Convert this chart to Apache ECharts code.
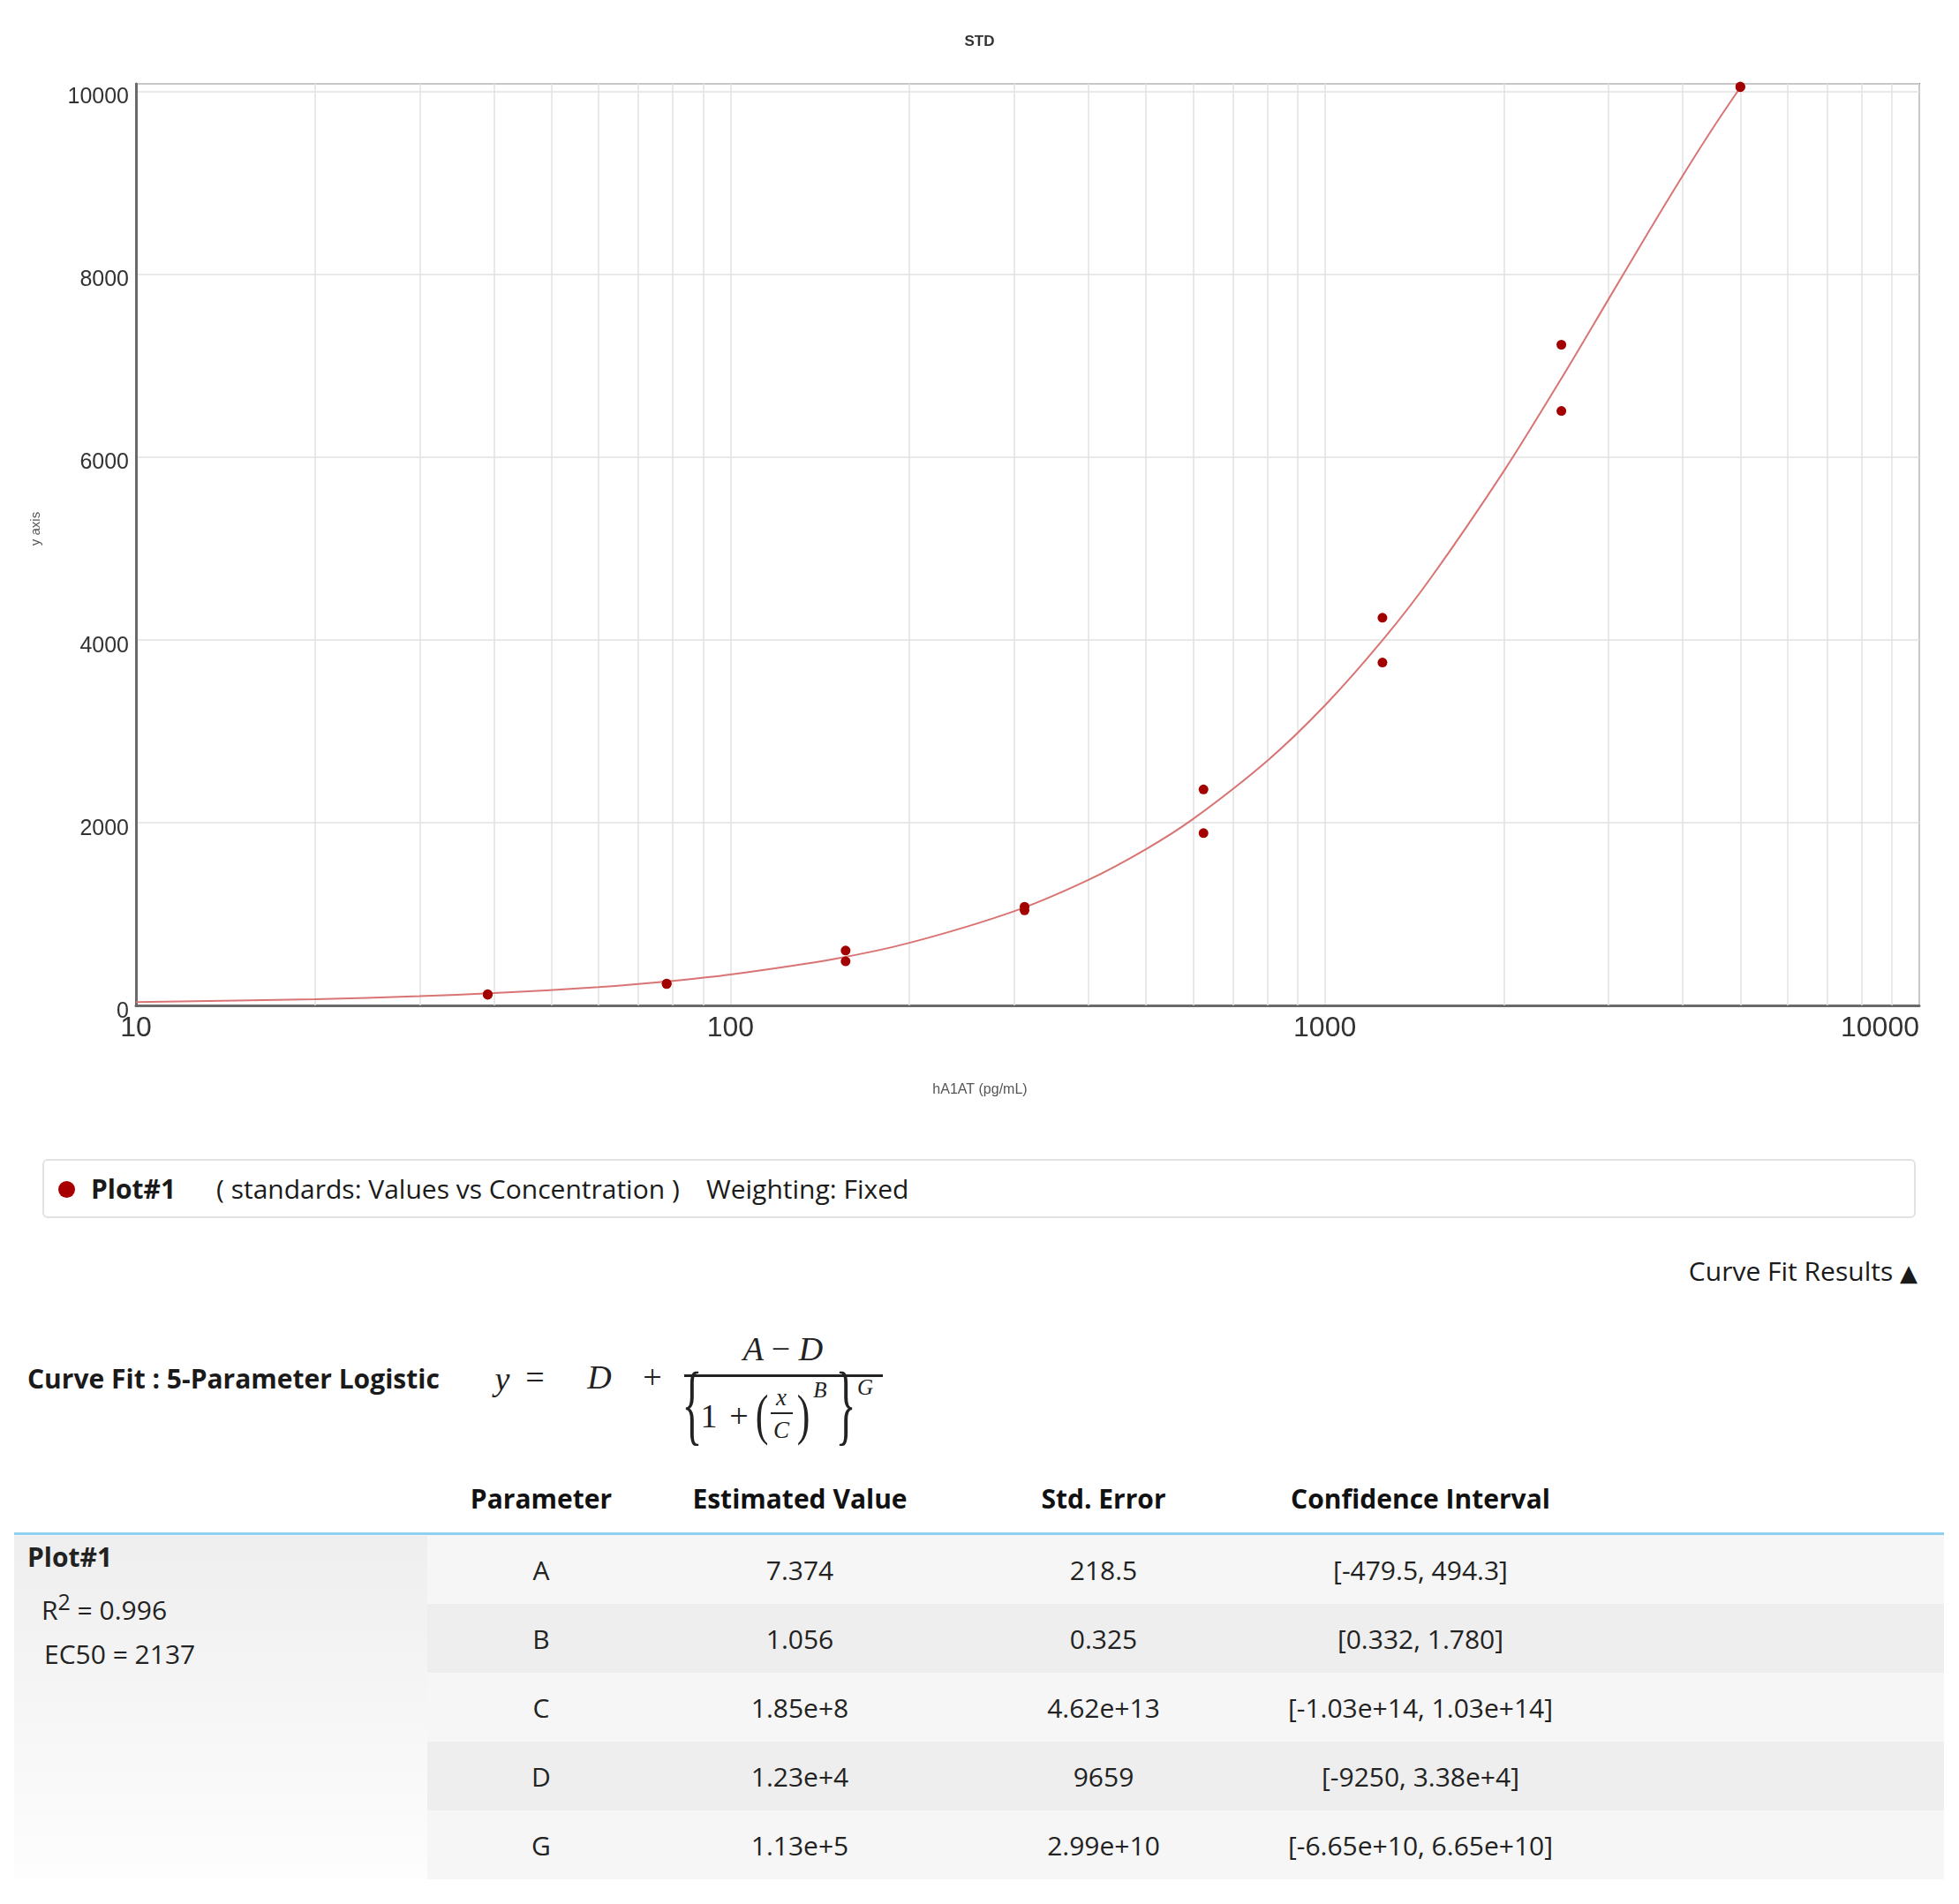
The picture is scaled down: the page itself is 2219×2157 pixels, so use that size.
<!DOCTYPE html>
<html>
<head>
<meta charset="utf-8">
<title>STD - Curve Fit</title>
<script src="https://cdn.jsdelivr.net/npm/echarts@6.0.0/dist/echarts.min.js"></script>
<style>
  html, body { margin: 0; padding: 0; background: #fff; }
  body { width: 2219px; height: 2157px; position: relative; overflow: hidden;
         font-family: 'Open Sans', Lato, 'Noto Sans', sans-serif; color: #1a1a1a; }
  #chart { position: absolute; left: 0; top: 0; width: 2219px; height: 1280px; }
  .t { position: absolute; white-space: nowrap; font-size: 30px; line-height: 38px; transform: translateY(-50%); }
  .c { position: absolute; white-space: nowrap; transform: translate(-50%, -50%); line-height: 1; }
  .b { font-weight: bold; }
  #legendBox { position: absolute; left: 48px; top: 1313px; width: 2122px; height: 67px;
               box-sizing: border-box; border: 2px solid #e2e2e2; border-radius: 6px; }
  #legendDot { position: absolute; left: 66px; top: 1338px; width: 19px; height: 19px;
               border-radius: 50%; background: #a80000; }
  .m { font-family: 'Liberation Serif', 'DejaVu Serif', serif; font-style: italic; color: #222; font-size: 38px; }
  .up { font-style: normal; }
  #fit { position: absolute; left: 16px; top: 1658px; border-collapse: collapse; table-layout: fixed; width: 2186px; }
  #fit th { height: 78px; font-size: 30px; font-weight: bold; color: #111; text-align: center;
            border-bottom: 3px solid #8fd0ee; padding: 0; }
  #fit td { height: 78px; font-size: 30px; color: #222; text-align: center; padding: 0; }
  #fit td.plot { text-align: left; vertical-align: top; padding: 0 0 0 15px;
                 background: linear-gradient(#eeeeee, #fdfdfd); }
  #fit td.plot div { line-height: 50px; }
  #fit tr.odd td.s { background: #f6f6f6; }
  #fit tr.even td.s { background: #eeeeee; }
</style>
</head>
<body>
<div id="chart"></div>

<div id="legendBox"></div>
<div id="legendDot"></div>
<div class="t b" style="left:103px; top:1347px;">Plot#1</div>
<div class="t" style="left:245px; top:1347px;">( standards: Values vs Concentration )</div>
<div class="t" style="left:800px; top:1347px;">Weighting: Fixed</div>

<div class="t" style="right:47px; top:1441px;">Curve Fit Results <span style="font-family:'DejaVu Sans'; font-size:26px;">&#9650;</span></div>

<div class="t b" style="left:31px; top:1562px;">Curve Fit : 5-Parameter Logistic</div>

<!-- formula: y = D + (A - D) / {1 + (x/C)^B}^G -->
<div class="c m" style="left:569px; top:1562px;">y</div>
<div class="c m up" style="left:606px; top:1560px;">=</div>
<div class="c m" style="left:679px; top:1560px;">D</div>
<div class="c m up" style="left:739px; top:1560px;">+</div>
<div class="c m" style="left:887px; top:1528px;">A <span class="up">&minus;</span> D</div>
<div style="position:absolute; left:775px; top:1557px; width:225px; height:3px; background:#222;"></div>
<div class="c m up" style="left:784px; top:1590px; font-size:48px; transform:translate(-50%,-50%) scaleY(2.1);">{</div>
<div class="c m up" style="left:803px; top:1604px;">1</div>
<div class="c m up" style="left:837px; top:1604px;">+</div>
<div class="c m up" style="left:863px; top:1604px; font-size:44px; transform:translate(-50%,-50%) scaleY(1.45);">(</div>
<div class="c m" style="left:885px; top:1583px; font-size:27px;">x</div>
<div style="position:absolute; left:873px; top:1600px; width:25px; height:2px; background:#222;"></div>
<div class="c m" style="left:885px; top:1620px; font-size:27px;">C</div>
<div class="c m up" style="left:910px; top:1604px; font-size:44px; transform:translate(-50%,-50%) scaleY(1.45);">)</div>
<div class="c m" style="left:929px; top:1574px; font-size:25px;">B</div>
<div class="c m up" style="left:958px; top:1590px; font-size:48px; transform:translate(-50%,-50%) scaleY(2.1);">}</div>
<div class="c m" style="left:980px; top:1571px; font-size:25px;">G</div>

<table id="fit">
  <colgroup>
    <col style="width:468px"><col style="width:258px"><col style="width:328px">
    <col style="width:360px"><col style="width:358px"><col style="width:414px">
  </colgroup>
  <thead>
    <tr><th></th><th>Parameter</th><th>Estimated Value</th><th>Std. Error</th><th>Confidence Interval</th><th></th></tr>
  </thead>
  <tbody id="fitBody"></tbody>
</table>

<script>
// standards: concentration (pg/mL) vs measured value
var concentrations = [39.0625, 39.0625, 78.125, 78.125, 156.25, 156.25, 312.5, 312.5,
                      625, 625, 1250, 1250, 2500, 2500, 5000, 5000];
var responses = [116, 122, 234, 240, 600, 482, 1080, 1040,
                 2362, 1885, 4240, 3750, 7227, 6502, 10044, 10050];

// fitted curve
var fitX = [10, 20, 30, 40, 60, 80, 100, 150, 200, 300, 400, 500, 600, 800,
            1000, 1250, 1500, 2000, 2500, 3000, 3500, 4000, 4500, 5000];
var fitY = [37, 68, 101, 134, 201, 269, 338, 510, 684, 1030, 1372, 1708, 2038, 2675,
            3280, 3993, 4656, 5843, 6858, 7723, 8456, 9076, 9600, 10041];

// minor vertical grid lines of the log axis
var gridX = [20, 30, 40, 50, 60, 70, 80, 90,
             200, 300, 400, 500, 600, 700, 800, 900,
             2000, 3000, 4000, 5000, 6000, 7000, 8000, 9000];

var yMin = 0, yMax = 10080, yStep = 2000;

// curve fit table
var plotName = 'Plot#1';
var rSquared = '0.996';
var ec50 = '2137';
var paramNames = ['A', 'B', 'C', 'D', 'G'];
var estValues = ['7.374', '1.056', '1.85e+8', '1.23e+4', '1.13e+5'];
var stdErrors = ['218.5', '0.325', '4.62e+13', '9659', '2.99e+10'];
var confIntervals = ['[-479.5, 494.3]', '[0.332, 1.780]', '[-1.03e+14, 1.03e+14]',
                     '[-9250, 3.38e+4]', '[-6.65e+10, 6.65e+10]'];

(function () {
    var axisFont = "'Liberation Sans', Arial, sans-serif";

    var option = {
        animation: false,
        backgroundColor: '#fff',
        title: {
            text: 'STD',
            left: 'center',
            top: 34,
            textStyle: { fontSize: 17, fontWeight: 'bold', color: '#333', fontFamily: axisFont }
        },
        grid: {
            left: 154, right: 45, top: 95, bottom: 141,
            show: true,
            borderColor: '#7d7d7d',
            borderWidth: 2
        },
        xAxis: {
            type: 'log',
            logBase: 10,
            min: 10,
            max: 10000,
            name: 'hA1AT (pg/mL)',
            nameLocation: 'middle',
            nameGap: 88,
            // page-centred like the original, not grid-centred
            nameTextStyle: { fontSize: 16, color: '#555', fontFamily: axisFont, padding: [0, 108, 0, 0] },
            axisLine: { show: true, lineStyle: { color: '#6a6a6a', width: 3 } },
            axisTick: { show: false },
            axisLabel: { fontSize: 32, color: '#333', margin: 10, fontFamily: axisFont,
                         alignMaxLabel: 'right',
                         formatter: function (v) { return String(v); } },
            splitLine: { show: true, lineStyle: { color: '#e2e2e2', width: 1.5 } }
        },
        yAxis: {
            type: 'value',
            min: yMin,
            max: yMax,
            interval: yStep,
            name: 'y axis',
            nameLocation: 'middle',
            nameRotate: 90,
            nameGap: 106,
            nameTextStyle: { fontSize: 15, color: '#555', fontFamily: axisFont, padding: [0, 0, 0, 36] },
            axisLine: { show: true, lineStyle: { color: '#6a6a6a', width: 3 } },
            axisTick: { show: false },
            axisLabel: {
                fontSize: 25, color: '#333', margin: 8, fontFamily: axisFont,
                // labels sit a little below their grid lines in the original
                verticalAlign: 'top',
                lineHeight: 14,
                showMaxLabel: false,
                formatter: function (v) { return v % yStep === 0 ? v : ''; }
            },
            splitLine: { show: true, lineStyle: { color: '#e2e2e2', width: 1.5 } }
        },
        series: [
            {
                name: 'fit',
                type: 'line',
                data: fitX.map(function (x, i) { return [x, fitY[i]]; }),
                showSymbol: false,
                smooth: 0.3,
                z: 3,
                lineStyle: { color: '#d97474', width: 2 },
                markLine: {
                    silent: true,
                    z: 1,
                    symbol: ['none', 'none'],
                    label: { show: false },
                    lineStyle: { color: '#e2e2e2', width: 1.5, type: 'solid' },
                    data: gridX.map(function (v) { return { xAxis: v }; })
                }
            },
            {
                name: plotName,
                type: 'scatter',
                data: concentrations.map(function (x, i) { return [x, responses[i]]; }),
                symbolSize: 11,
                z: 4,
                itemStyle: { color: '#a30000', opacity: 1 }
            }
        ]
    };

    var myChart = echarts.init(document.getElementById('chart'));
    myChart.setOption(option);

    // curve fit results table
    var body = document.getElementById('fitBody');
    paramNames.forEach(function (p, i) {
        var tr = document.createElement('tr');
        tr.className = i % 2 === 0 ? 'odd' : 'even';
        var html = '';
        if (i === 0) {
            html += '<td class="plot" rowspan="' + paramNames.length + '">' +
                '<div class="b">' + plotName + '</div>' +
                '<div style="margin-left:16px">R<sup style="font-size:25px">2</sup> = ' + rSquared + '</div>' +
                '<div style="margin-left:19px">EC50 = ' + ec50 + '</div></td>';
        }
        html += '<td class="s">' + p + '</td>' +
                '<td class="s">' + estValues[i] + '</td>' +
                '<td class="s">' + stdErrors[i] + '</td>' +
                '<td class="s">' + confIntervals[i] + '</td>' +
                '<td class="s"></td>';
        tr.innerHTML = html;
        body.appendChild(tr);
    });
})();
</script>
</body>
</html>
